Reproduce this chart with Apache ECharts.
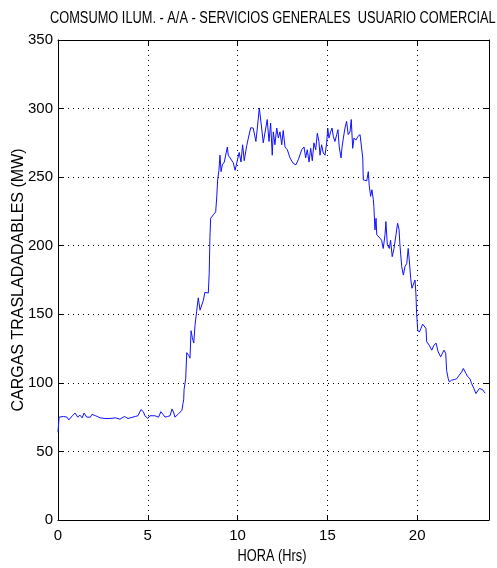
<!DOCTYPE html>
<html>
<head>
<meta charset="utf-8">
<script src="https://cdn.jsdelivr.net/npm/echarts@6/dist/echarts.min.js"></script>
<style>html,body{margin:0;padding:0;background:#fff}#c{width:497px;height:568px}</style>
</head>
<body>
<div id="c"></div>
<script>
var chartTitle = 'COMSUMO ILUM. - A/A - SERVICIOS GENERALES  USUARIO COMERCIAL';
var xName = 'HORA (Hrs)';
var yName = 'CARGAS TRASLADADABLES (MW)';
var xTicks = [0, 5, 10, 15, 20];
var yTicks = [0, 50, 100, 150, 200, 250, 300, 350];

var hours = [
  0,0.06,0.3,0.5,0.6,0.8,0.95,1.1,1.22,1.35,1.45,1.6,1.67,1.8,1.89,2.1,2.34,2.62,2.9,3.2,
  3.45,3.7,3.9,4.01,4.3,4.45,4.62,4.75,4.84,5.0,5.12,5.4,5.6,5.73,5.85,5.96,6.1,6.24,6.35,6.45,
  6.51,6.68,6.9,6.96,7.0,7.02,7.11,7.17,7.28,7.35,7.41,7.48,7.56,7.63,7.72,7.81,7.91,8.0,8.09,8.18,
  8.37,8.42,8.46,8.5,8.65,8.78,8.84,8.89,8.96,9.02,9.08,9.15,9.26,9.34,9.43,9.48,9.58,9.76,9.86,9.95,
  10.09,10.19,10.28,10.37,10.51,10.6,10.73,10.87,11.02,11.1,11.21,11.25,11.34,11.43,11.54,11.65,11.75,11.84,11.93,11.99,
  12.08,12.18,12.27,12.36,12.46,12.54,12.64,12.77,12.92,13.1,13.25,13.38,13.47,13.57,13.7,13.79,13.88,13.98,14.07,14.16,
  14.25,14.35,14.44,14.53,14.59,14.68,14.77,14.87,14.96,15.02,15.09,15.18,15.26,15.33,15.42,15.52,15.59,15.66,15.76,15.81,
  15.89,15.98,16.07,16.16,16.26,16.33,16.41,16.48,16.59,16.7,16.82,16.91,16.97,17.0,17.19,17.28,17.33,17.41,17.48,17.56,
  17.59,17.65,17.71,17.75,17.83,17.93,18.02,18.11,18.21,18.26,18.34,18.45,18.52,18.61,18.71,18.82,18.91,18.99,19.04,19.14,
  19.23,19.32,19.42,19.5,19.56,19.64,19.71,19.82,19.88,19.93,19.97,20.03,20.12,20.21,20.31,20.4,20.49,20.53,20.62,20.67,
  20.81,20.94,21.05,21.17,21.31,21.4,21.49,21.59,21.64,21.73,21.79,21.92,22.07,22.2,22.34,22.48,22.57,22.62,22.72,22.79,
  22.87,22.94,23.03,23.16,23.27,23.37,23.46,23.55,23.65,23.72,23.79
];
var load = [
  64,75,75.5,75,73,76,78,75,76.5,74.5,78,75,76,75,77,76,74.5,74,74,74.5,
  73.5,75.5,74,75,75.5,76,80.5,79,76,74,76,76,75,79,77,75,75.5,76,81,78,
  75,77,80,85,88,95,103,122,120,118,138,133,129,142,152,162,153,152,160,166,
  165.5,180,206,220,222.5,224.7,235.6,248,255,266,254,259,261,262,272,266,265,260.5,255,254,
  268,261,273.6,262,273,278.5,286,285.8,276,285.8,300.4,301.6,285.8,275,275,292,276,289.5,266,283,
  273.6,285.8,278.5,283,273.6,284,272,270,264,260,259,262.7,264,270,272,264,270,261,271,262,
  275,270,282,276,266,273.6,267.6,266,275,285.8,278.5,283,285.8,279.7,276,281,284.6,272,264,271,
  278.5,285.8,290.7,281,283,292,271,278.5,277,279.7,281,279.7,264,248,247.3,254,244,236,240.8,233.5,
  228.6,211.5,220,208,206.6,205.5,204,198,208,217.6,200.6,198,204,192,198,208,216.4,212,200.6,184.7,
  178.6,184.7,187,198,189.6,176,169,169,175,165,150.7,138.5,137,139.7,142.8,143.4,139.7,130,128.7,127.5,
  123.8,127.5,129,122.6,119,117.8,123.8,121.5,109,103,100.7,102,102.4,103,105.6,108,110.5,111,106.8,104.9,
  105.6,103,99.5,95.9,92.2,93.4,95.9,96.6,95,93.4,92.6
];

var seriesData = hours.map(function (h, i) { return [h, load[i]]; });

var regular = '"Liberation Sans", Arial, sans-serif';

var chart = echarts.init(document.getElementById('c'), null, {renderer: 'canvas'});
var xInterval = xTicks[1] - xTicks[0];
var yInterval = yTicks[1] - yTicks[0];

var baseX = {
  type: 'value', min: 0, max: 24, interval: xInterval,
  axisLine: {show: true, onZero: false, lineStyle: {color: '#000', width: 1}},
  axisTick: {show: true, inside: true, length: 5, lineStyle: {color: '#000'}},
  splitLine: {show: false}
};
var baseY = {
  type: 'value', min: yTicks[0], max: yTicks[yTicks.length - 1], interval: yInterval,
  axisLine: {show: true, onZero: false, lineStyle: {color: '#000', width: 1}},
  axisTick: {show: true, inside: true, length: 5, lineStyle: {color: '#000'}},
  splitLine: {show: false}
};

chart.setOption({
  animation: false,
  backgroundColor: '#fff',
  graphic: [
    {
      type: 'text', x: 50, y: 11, scaleX: 0.8, silent: true,
      style: {text: chartTitle, fill: '#000', font: '16px "Liberation Sans", Arial, sans-serif',
        textAlign: 'left', textVerticalAlign: 'top'}
    },
    {
      type: 'text', x: 272, y: 549, scaleX: 0.8, silent: true,
      style: {text: xName, fill: '#000', font: '16px "Liberation Sans", Arial, sans-serif',
        textAlign: 'center', textVerticalAlign: 'top'}
    }
  ],
  grid: {left: 58, right: 8, top: 40, bottom: 48, containLabel: false, outerBoundsMode: 'none'},
  xAxis: [
    Object.assign({}, baseX, {
      position: 'bottom',
      axisLabel: {show: true, margin: 8, fontFamily: regular, fontSize: 15, color: '#000',
        showMaxLabel: false,
        formatter: function (v) { return xTicks.indexOf(v) >= 0 ? String(v) : ''; }},
      splitLine: {show: true, lineStyle: {color: '#000', width: 1, type: [1, 4]}}
    }),
    Object.assign({}, baseX, {position: 'top', axisLabel: {show: false}})
  ],
  yAxis: [
    Object.assign({}, baseY, {
      position: 'left',
      name: yName, nameLocation: 'middle', nameGap: 31, nameMoveOverlap: false,
      nameTextStyle: {fontFamily: regular, fontSize: 16, color: '#000'},
      axisLabel: {show: true, margin: 5, fontFamily: regular, fontSize: 15, color: '#000'},
      splitLine: {show: true, lineStyle: {color: '#000', width: 1, type: [1, 4]}}
    }),
    Object.assign({}, baseY, {position: 'right', axisLabel: {show: false}})
  ],
  series: [{
    type: 'line',
    xAxisIndex: 0, yAxisIndex: 0,
    data: seriesData,
    showSymbol: false,
    symbol: 'none',
    lineStyle: {color: '#1010ff', width: 1},
    z: 3
  }]
});
</script>
</body>
</html>
